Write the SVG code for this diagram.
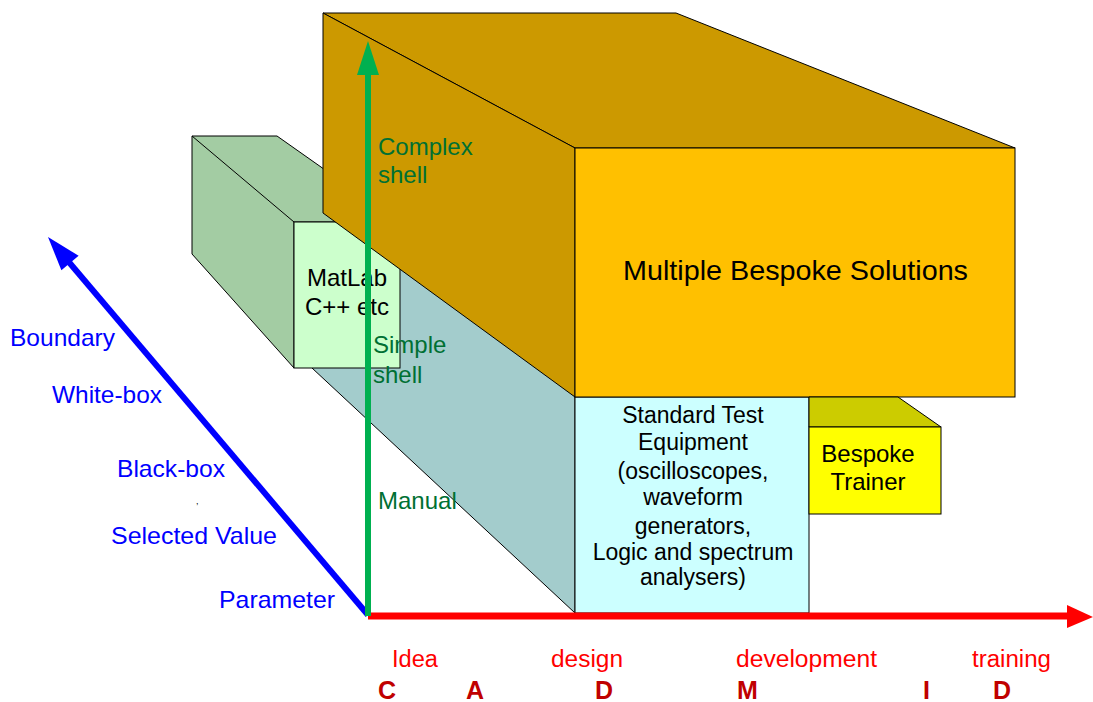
<svg xmlns="http://www.w3.org/2000/svg" width="1093" height="702" viewBox="0 0 1093 702">
<defs>
<style>
text{font-family:"Liberation Sans",Arial,sans-serif;}
.edge{stroke:#000;stroke-width:1;stroke-linejoin:miter}
.blue{fill:#0000FF;font-size:24px}
.grn{fill:#007033;font-size:24px}
.blk{fill:#000;font-size:24px}
.ste{fill:#000;font-size:23px;text-anchor:middle}
.red{fill:#FF0000;font-size:23px}
.cad{fill:#C00000;font-size:25px;font-weight:bold}
</style>
</defs>
<rect width="1093" height="702" fill="#fff"/>

<g id="node-standard-test">
<polygon class="edge" points="312,368 575,613 575,397 400,222 310,222" fill="#A3CCCC"/>
<rect class="edge" x="575" y="397" width="234" height="216" fill="#CCFFFF"/>
</g>

<g id="node-matlab">
<polygon class="edge" points="192,136 277,136 399,222 294,222 294,368 192,254" fill="#A3CCA3"/>
<line class="edge" x1="192" y1="136" x2="294" y2="222"/>
<rect class="edge" x="294" y="222" width="106" height="146" fill="#CCFFCC"/>
</g>

<g id="node-bespoke-solutions">
<polygon class="edge" points="323,13 676,13 1015,148 575,148" fill="#CC9900"/>
<polygon class="edge" points="323,13 575,148 575,397 323,213" fill="#CC9900"/>
<rect class="edge" x="575" y="148" width="440" height="249" fill="#FFC000"/>
<text class="blk" x="623" y="280" style="font-size:28px" textLength="345" lengthAdjust="spacingAndGlyphs">Multiple Bespoke Solutions</text>
</g>

<g id="node-bespoke-trainer">
<polygon class="edge" points="809,397 898,397 941,427 809,427" fill="#CCCC00"/>
<rect class="edge" x="809" y="427" width="132" height="87" fill="#FFFF00"/>
<text class="blk" x="868" y="462" text-anchor="middle">Bespoke</text>
<text class="blk" x="868" y="490" text-anchor="middle">Trainer</text>
</g>

<g id="label-matlab">
<text class="blk" x="347" y="286" text-anchor="middle">MatLab</text>
<text class="blk" x="347" y="315" text-anchor="middle">C++ etc</text>
</g>

<g id="label-standard-test">
<text class="ste" x="693" y="423">Standard Test</text>
<text class="ste" x="693" y="450">Equipment</text>
<text class="ste" x="693" y="479">(oscilloscopes,</text>
<text class="ste" x="693" y="505">waveform</text>
<text class="ste" x="693" y="534">generators,</text>
<text class="ste" x="693" y="560">Logic and spectrum</text>
<text class="ste" x="693" y="585">analysers)</text>
</g>

<g id="connectors">
<line x1="368" y1="616" x2="1068" y2="616" stroke="#FF0000" stroke-width="7"/>
<polygon points="1067,605 1093,617 1067,628" fill="#FF0000"/>
<line x1="368" y1="615" x2="68" y2="261" stroke="#0000FF" stroke-width="6"/>
<polygon points="48,237 78.6,255.7 61.4,270.3" fill="#0000FF"/>
<line x1="368" y1="616" x2="368" y2="70" stroke="#00B050" stroke-width="6"/>
<polygon points="368,41 379,75 357,75" fill="#00B050"/>
</g>

<g id="labels-vertical">
<text class="grn" x="378" y="155">Complex</text>
<text class="grn" x="378" y="183">shell</text>
<text class="grn" x="373" y="353">Simple</text>
<text class="grn" x="373" y="383">shell</text>
<text class="grn" x="378" y="509">Manual</text>
</g>

<g id="labels-diagonal">
<text class="blue" x="10" y="346" textLength="105" lengthAdjust="spacingAndGlyphs">Boundary</text>
<text class="blue" x="52" y="403" textLength="110" lengthAdjust="spacingAndGlyphs">White-box</text>
<text class="blue" x="117" y="477" textLength="108" lengthAdjust="spacingAndGlyphs">Black-box</text>
<text x="196" y="504" style="font-size:9px" fill="#000">,</text>
<text class="blue" x="111" y="544" textLength="166" lengthAdjust="spacingAndGlyphs">Selected Value</text>
<text class="blue" x="219" y="608" textLength="116" lengthAdjust="spacingAndGlyphs">Parameter</text>
</g>

<g id="labels-horizontal">
<text class="red" x="392" y="667" textLength="46" lengthAdjust="spacingAndGlyphs">Idea</text>
<text class="red" x="551" y="667" textLength="72" lengthAdjust="spacingAndGlyphs">design</text>
<text class="red" x="736" y="667" textLength="141" lengthAdjust="spacingAndGlyphs">development</text>
<text class="red" x="972" y="667" textLength="79" lengthAdjust="spacingAndGlyphs">training</text>
<text class="cad" x="378" y="699">C</text>
<text class="cad" x="466" y="699">A</text>
<text class="cad" x="595" y="699">D</text>
<text class="cad" x="737" y="699">M</text>
<text class="cad" x="923" y="699">I</text>
<text class="cad" x="993" y="699">D</text>
</g>
</svg>
